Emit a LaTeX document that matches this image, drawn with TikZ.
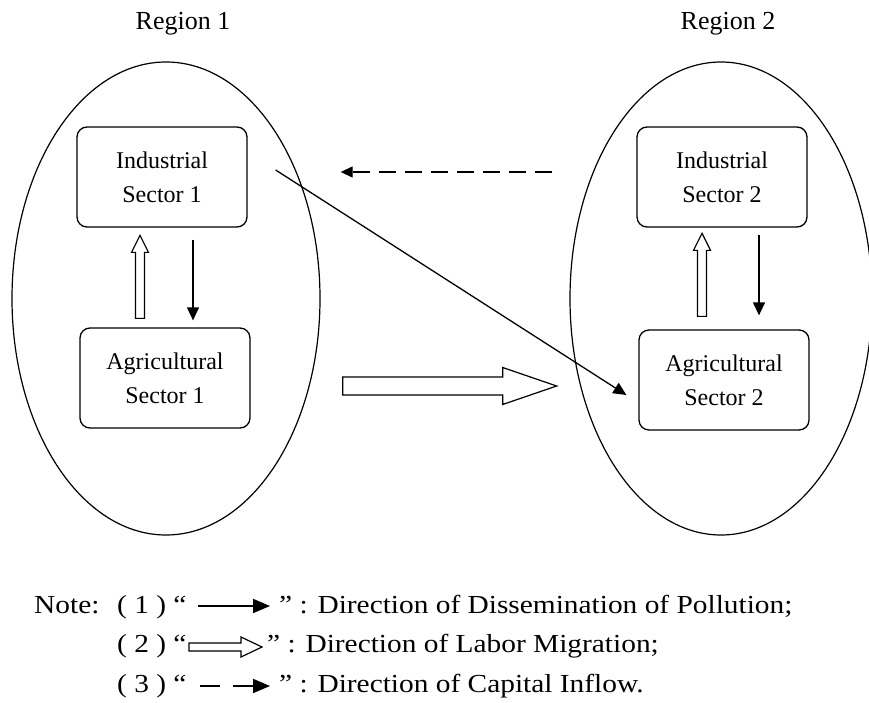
\documentclass[tikz,border=0pt]{standalone}
\usepackage{fontspec}
\setmainfont{Liberation Serif}
\newfontfamily\notefont{Liberation Serif}[FakeStretch=1.13]
\usetikzlibrary{arrows.meta,calc}
\begin{document}
\begin{tikzpicture}[x=1pt,y=-1pt,
  sector/.style={draw, rounded corners=10pt, line width=1.3pt,
    minimum width=170pt, minimum height=100pt, inner sep=0pt, align=center,
    font=\fontsize{24}{34}\selectfont,
    execute at begin node={\rule{0pt}{26pt}}},
  regionlabel/.style={font=\fontsize{26}{30}\selectfont, anchor=base, inner sep=0pt},
  regionshape/.style={line width=1.2pt},
  poll/.style={line width=1.3pt, -{Triangle[length=13pt,width=12pt]}},
  capital/.style={line width=1.3pt, dash pattern=on 17pt off 9pt,
    -{Triangle[length=12pt,width=11pt]}},
  polllegend/.style={line width=2pt, -{Triangle[length=17pt,width=14pt]}},
  capitallegend/.style={line width=2pt, dash pattern=on 20pt off 13pt,
    -{Triangle[length=17pt,width=14pt]}},
  notetext/.style={font=\notefont\fontsize{26}{30}\selectfont,
    anchor=base west, inner sep=0pt},
  hollow/.style={line width=1.2pt, fill=white, line join=miter},
  hup/.pic={\draw[hollow] (-4.5,0) -- (-4.5,-66) -- (-8.5,-66) -- (0,-83)
      -- (8.5,-66) -- (4.5,-66) -- (4.5,0) -- cycle;},
  hbig/.pic={\draw[hollow] (0,-9) -- (160,-9) -- (160,-18.5) -- (214,0)
      -- (160,18.5) -- (160,9) -- (0,9) -- cycle;},
  hsmall/.pic={\draw[hollow] (0,-4) -- (52,-4) -- (52,-10) -- (73,0)
      -- (52,10) -- (52,4) -- (0,4) -- cycle;}
]
\useasboundingbox (0,0) rectangle (869,703);

% regions
\begin{scope}
  \clip (0,0) rectangle (869,703);
  \draw[regionshape] (166,298.5) ellipse [x radius=154, y radius=236.5];
  \draw[regionshape] (721,298.5) ellipse [x radius=151, y radius=236.5];
\end{scope}
\node[regionlabel] (r1) at (183,30) {Region 1};
\node[regionlabel] (r2) at (728,30) {Region 2};

% sectors
\node[sector] (ind1) at (162,177) {Industrial\\Sector 1};
\node[sector] (agr1) at (165,378) {Agricultural\\Sector 1};
\node[sector] (ind2) at (722,177) {Industrial\\Sector 2};
\node[sector] (agr2) at (724,380) {Agricultural\\Sector 2};

% labour migration (hollow arrows)
\path ([xshift=-25pt,yshift=9pt]agr1.north) pic {hup};
\path ([xshift=-22pt,yshift=13pt]agr2.north) pic {hup};
\path ([xshift=92pt,yshift=-8pt]agr1.east) pic {hbig};

% pollution
\draw[poll] ([xshift=31pt,yshift=-12pt]ind1.south) -- ([xshift=28pt,yshift=7pt]agr1.north);
\draw[poll] ([xshift=37pt,yshift=-7pt]ind2.south) -- ([xshift=35pt,yshift=14pt]agr2.north);
\draw[poll] ([xshift=28pt,yshift=7pt]ind1.east) -- ([xshift=-12pt,yshift=-15pt]agr2.west);

% capital inflow
\draw[capital] ([xshift=-84pt,yshift=5pt]ind2.west) -- ([xshift=93pt,yshift=5pt]ind1.east);

% legend
\node[notetext] (note) at (34,613) {Note:};
\node[notetext] (n1a) at (117,613) {( 1 ) “};
\coordinate (l1s) at (198,606);
\coordinate (l1e) at (270,606);
\draw[polllegend] (l1s) -- (l1e);
\node[notetext] (n1b) at (279,613) {” : Direction of Dissemination of Pollution;};

\node[notetext] (n2a) at (117,652) {( 2 ) “};
\coordinate (l2s) at (189,647);
\path (l2s) pic {hsmall};
\node[notetext] (n2b) at (267,652) {” : Direction of Labor Migration;};

\node[notetext] (n3a) at (117,692) {( 3 ) “};
\coordinate (l3s) at (200,686);
\coordinate (l3e) at (270,686);
\draw[capitallegend] (l3s) -- (l3e);
\node[notetext] (n3b) at (279,692) {” : Direction of Capital Inflow.};
\end{tikzpicture}
\end{document}
